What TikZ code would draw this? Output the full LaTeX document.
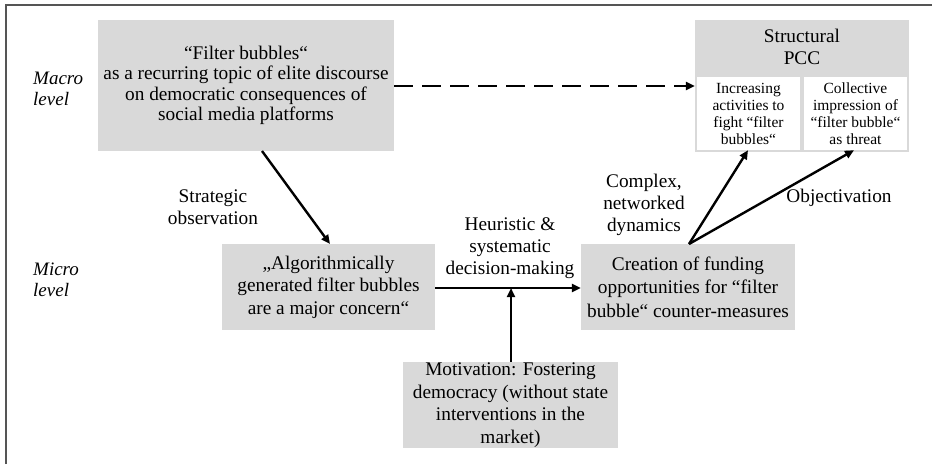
\documentclass[tikz,border=0pt]{standalone}
\usepackage{fontspec}
\setmainfont{Liberation Serif}
\usetikzlibrary{arrows.meta}
\definecolor{boxgrey}{HTML}{D9D9D9}
\definecolor{framegrey}{HTML}{555555}
\begin{document}
\begin{tikzpicture}[x=1pt,y=-1pt,
  greybox/.style={rectangle,fill=boxgrey,draw=none,inner sep=0pt,align=center,
    font=\fontsize{19.3}{20.5}\selectfont},
  subbox/.style={rectangle,fill=white,draw=none,inner sep=0pt,align=center,
    font=\fontsize{15.5}{17}\selectfont},
  lbl/.style={align=center,inner sep=0pt,font=\fontsize{19.3}{22}\selectfont},
  lvl/.style={align=left,inner sep=0pt,font=\fontsize{19}{20.5}\selectfont\itshape},
  arr/.style={line width=2.4pt,-{Triangle[length=9pt,width=8pt]}},
  darr/.style={line width=2.6pt,dash pattern=on 19pt off 9pt,-{Triangle[length=9pt,width=8pt]}}
]
\useasboundingbox (0,0) rectangle (932,464);
\fill[white] (0,0) rectangle (932,464);
\draw[framegrey,line width=2pt] (5.5,464) -- (5.5,4.5) -- (932,4.5);

% boxes
\node[greybox,minimum width=296pt,minimum height=131pt] (macro) at (246,85.5)
  {``Filter bubbles``\\as a recurring topic of elite discourse\\on democratic consequences of\\social media platforms};
\node[greybox,minimum width=214pt,minimum height=132pt] (pcc) at (802,86) {};
\node[inner sep=0pt,align=center,font=\fontsize{19.3}{22}\selectfont] (pcctitle) at (802,47) {Structural\\PCC};
\node[subbox,minimum width=103pt,minimum height=73pt] (sub1) at (748.5,113.5)
  {Increasing\\activities to\\fight ``filter\\bubbles``};
\node[subbox,minimum width=103pt,minimum height=73pt] (sub2) at (855.5,113.5)
  {Collective\\impression of\\``filter bubble``\\as threat};
\node[greybox,minimum width=213pt,minimum height=86pt,font=\fontsize{19.3}{22.5}\selectfont] (micro) at (328.5,287)
  {,,Algorithmically\\generated filter bubbles\\are a major concern``};
\node[greybox,minimum width=214pt,minimum height=86pt,font=\fontsize{19.3}{23.3}\selectfont] (creation) at (688,287)
  {Creation of funding\\opportunities for ``filter\\bubble`` counter-measures};
\node[greybox,minimum width=215pt,minimum height=86pt,font=\fontsize{19.3}{22.5}\selectfont] (motiv) at (510.5,405)
  {Motivation: Fostering\\democracy (without state\\interventions in the\\market)};

% level labels
\node[lvl,anchor=west] (macrolvl) at (33,89) {Macro\\level};
\node[lvl,anchor=west] (microlvl) at (33,280) {Micro\\level};

% connector labels
\node[lbl] (strat) at (213,207) {Strategic\\observation};
\node[lbl] (heur) at (510,248) {Heuristic \&\\systematic\\decision-making};
\node[lbl] (complex) at (644,205) {Complex,\\networked\\dynamics};
\node[lbl] (obj) at (839,198) {Objectivation};

% connectors
\coordinate (macroout) at (262,151);
\coordinate (microin) at (330,244);
\draw[arr] (macroout) -- (microin);
\draw[darr] (macro.east |- 0,86) -- (pcc.west |- 0,86);
\draw[arr] (micro.east |- 0,288) -- (creation.west |- 0,288);
\coordinate (join) at (511,288);
\draw[arr] (motiv.north -| join) -- (join);
\coordinate (cstart) at (689,244);
\draw[arr] (cstart) -- (sub1.south -| 748,0);
\draw[arr] (cstart) -- (sub2.south -| 854,0);
\end{tikzpicture}
\end{document}
